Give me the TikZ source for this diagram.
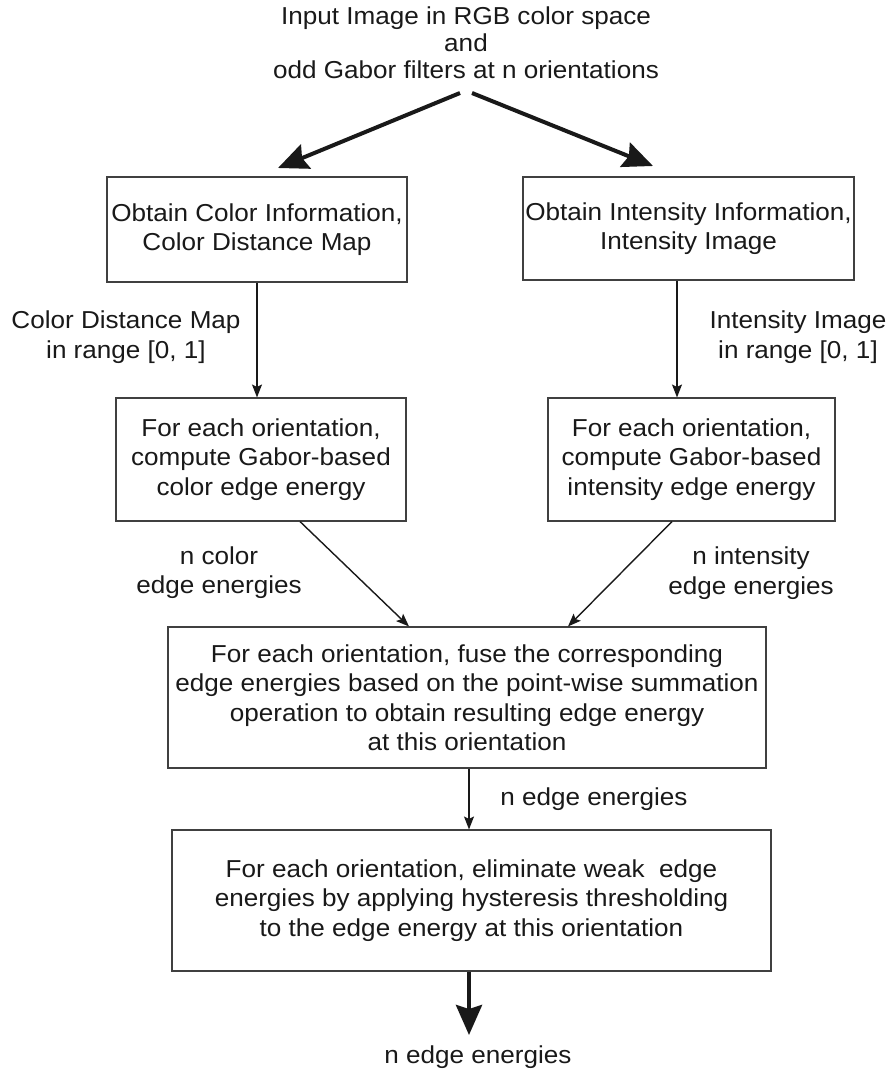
\documentclass[tikz,border=0pt]{standalone}
\usepackage{fontspec}
\setmainfont[FakeStretch=1.065]{Liberation Sans}
\usetikzlibrary{arrows.meta}
\newcommand\myfont{\fontsize{24.5}{29.5}\selectfont}
\newcommand\mytopfont{\fontsize{24.5}{27}\selectfont}
\begin{document}
\begin{tikzpicture}[x=1pt,y=-1pt,
  box/.style={draw=black!75, line width=1.1pt, inner sep=0pt, align=center, font=\myfont, text=black!90},
  lbl/.style={inner sep=0pt, align=center, font=\myfont, text=black!90},
  thinarrow/.style={draw=black!90, line width=1.4pt, -{Stealth[length=13pt,width=10pt,inset=2.5pt]}},
  thickarrow/.style={draw=black!90, line width=4pt, -{Stealth[length=30pt,width=26pt,inset=4pt]}}
]
\useasboundingbox (0,0) rectangle (891,1070);

% top text
\node[lbl, font=\mytopfont, anchor=north] (top) at (466,6.5)
  {Input Image in RGB color space\\and\\odd Gabor filters at n orientations};

% boxes
\node[box, minimum width=300pt, minimum height=105pt] (b1) at (257,229.5)
  {Obtain Color Information,\\Color Distance Map};
\node[box, minimum width=331pt, minimum height=103pt] (b2) at (688.5,228.5)
  {Obtain Intensity Information,\\Intensity Image};
\node[box, minimum width=290pt, minimum height=123pt] (b3) at (261,459.5)
  {For each orientation,\\compute Gabor-based\\color edge energy};
\node[box, minimum width=287pt, minimum height=123pt] (b4) at (691.5,459.5)
  {For each orientation,\\compute Gabor-based\\intensity edge energy};
\node[box, minimum width=598pt, minimum height=141pt] (b5) at (467,697.5)
  {For each orientation, fuse the corresponding\\edge energies based on the point-wise summation\\operation to obtain resulting edge energy\\at this orientation};
\node[box, minimum width=599pt, minimum height=141pt] (b6) at (471.5,900.5)
  {For each orientation, eliminate weak~ edge\\energies by applying hysteresis thresholding\\to the edge energy at this orientation};

% labels
\node[lbl] (l1) at (126,337) {Color Distance Map\\in range [0, 1]};
\node[lbl] (l2) at (798,337) {Intensity Image\\in range [0, 1]};
\node[lbl] (l3) at (219,572.5) {n color\\edge energies};
\node[lbl] (l4) at (751,573) {n intensity\\edge energies};
\node[lbl] (l5) at (594,799) {n edge energies};
\node[lbl] (l6) at (478,1057) {n edge energies};

% helper coordinates
\coordinate (tL) at (460,93);
\coordinate (tR) at (472,93);
\coordinate (hL) at (278,168);
\coordinate (hR) at (653,166);
\coordinate (xR) at (677,0);
\coordinate (d1) at (300,0);
\coordinate (d2) at (409,0);
\coordinate (d3) at (672,0);
\coordinate (d4) at (568,0);
\coordinate (xM) at (469,0);
\coordinate (endM) at (469,1035);

% connectors
\draw[thickarrow] (tL) -- (hL);
\draw[thickarrow] (tR) -- (hR);
\draw[thinarrow] (b1.south) -- (b1.south |- b3.north);
\draw[thinarrow] (b2.south -| xR) -- (b4.north -| xR);
\draw[thinarrow] (b3.south -| d1) -- (b5.north -| d2);
\draw[thinarrow] (b4.south -| d3) -- (b5.north -| d4);
\draw[thinarrow] (b5.south -| xM) -- (b6.north -| xM);
\draw[thickarrow] (b6.south -| xM) -- (endM);
\end{tikzpicture}
\end{document}
